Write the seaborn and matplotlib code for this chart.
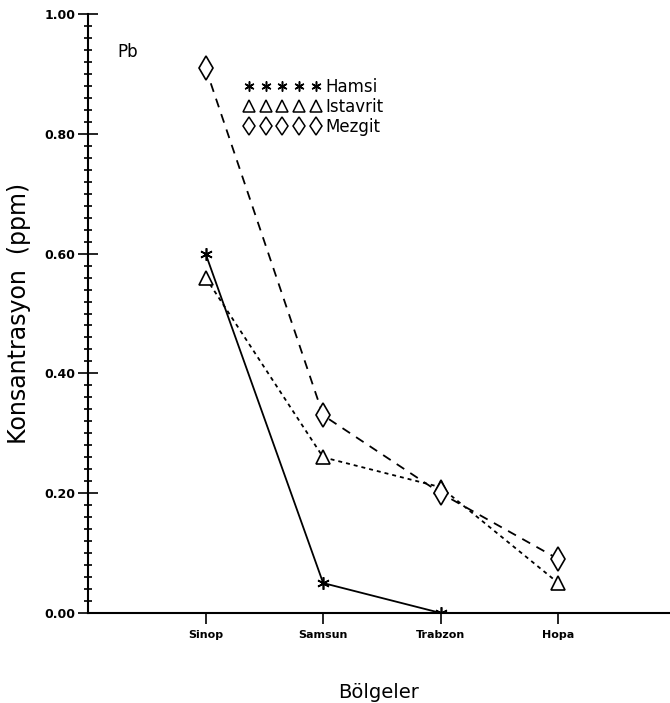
import numpy as np
import pandas as pd
import matplotlib
matplotlib.use("Agg")
import matplotlib.pyplot as plt
from matplotlib.lines import Line2D
from matplotlib.ticker import MultipleLocator
import seaborn as sns

regions = ["Sinop", "Samsun", "Trabzon", "Hopa"]
hamsi = [0.60, 0.05, 0.00]          # Sinop, Samsun, Trabzon
istavrit = [0.56, 0.26, 0.21, 0.05]
mezgit = [0.91, 0.33, 0.20, 0.09]
yticks = [0.00, 0.20, 0.40, 0.60, 0.80, 1.00]
ytick_labels = ["0.00", "0.20", "0.40", "0.60", "0.80", "1.00"]

sns.set_theme(style="ticks", rc={"text.color": "black", "axes.labelcolor": "black",
                                 "xtick.color": "black", "ytick.color": "black",
                                 "axes.edgecolor": "black"})
plt.rcParams['font.family'] = ['DejaVu Sans']

fig = plt.figure(figsize=(6.7, 7.03), dpi=100)
ax = fig.add_axes([88/670, 90/703, 1 - 88/670, 599/703])

pos = np.arange(1, len(regions) + 1)

series = [
    ("Hamsi", hamsi, "-", (6, 2, 0), 9, "black"),
    ("Istavrit", istavrit, (0, (2.2, 2.2)), "^", 10, "none"),
    ("Mezgit", mezgit, (0, (5, 4)), "d", 12, "none"),
]
handles = []
for name, vals, ls, mk, ms, fc in series:
    df = pd.DataFrame({"x": pos[:len(vals)], "y": vals})
    sns.lineplot(data=df, x="x", y="y", ax=ax, color="black", linestyle=ls,
                 linewidth=1.3, marker=mk, markersize=ms,
                 markerfacecolor="white" if fc == "none" else fc,
                 markeredgecolor="black", markeredgewidth=1.2, legend=False)
    handles.append(Line2D([], [], color="black", linestyle="None", marker=mk,
                          markersize=ms * 0.8, markerfacecolor="white" if fc == "none" else fc,
                          markeredgecolor="black", markeredgewidth=1.1, label=name))

ax.set_xlim(0, 4.95)
ax.set_ylim(0, 1.0)
ax.set_xticks(pos)
ax.set_xticklabels(regions, fontsize=8, fontweight="bold")
ax.set_yticks(yticks)
ax.set_yticklabels(ytick_labels, fontsize=9, fontweight="bold")
ax.yaxis.set_minor_locator(MultipleLocator(0.02))
ax.tick_params(axis="y", which="major", direction="inout", length=14, width=1.2, pad=2)
ax.tick_params(axis="y", which="minor", direction="inout", length=6, width=1.2)
ax.tick_params(axis="x", which="major", direction="out", length=8, width=1.2, pad=4)
for s in ["top", "right"]:
    ax.spines[s].set_visible(False)
ax.spines["left"].set_linewidth(1.5)
ax.spines["bottom"].set_linewidth(1.5)

ax.set_xlabel("Bölgeler", fontsize=14, labelpad=31)
ax.set_ylabel("Konsantrasyon  (ppm)", fontsize=17, labelpad=10)

ax.text(0.25, 0.937, "Pb", fontsize=12, va="center", transform=ax.transData)

leg = ax.legend(handles=handles, loc="upper left", bbox_to_anchor=(0.268, 0.893),
                numpoints=5, handlelength=4.6, handletextpad=0.3, labelspacing=0.12,
                frameon=False, fontsize=12, borderaxespad=0, borderpad=0)

fig.savefig("out.png", dpi=100)
